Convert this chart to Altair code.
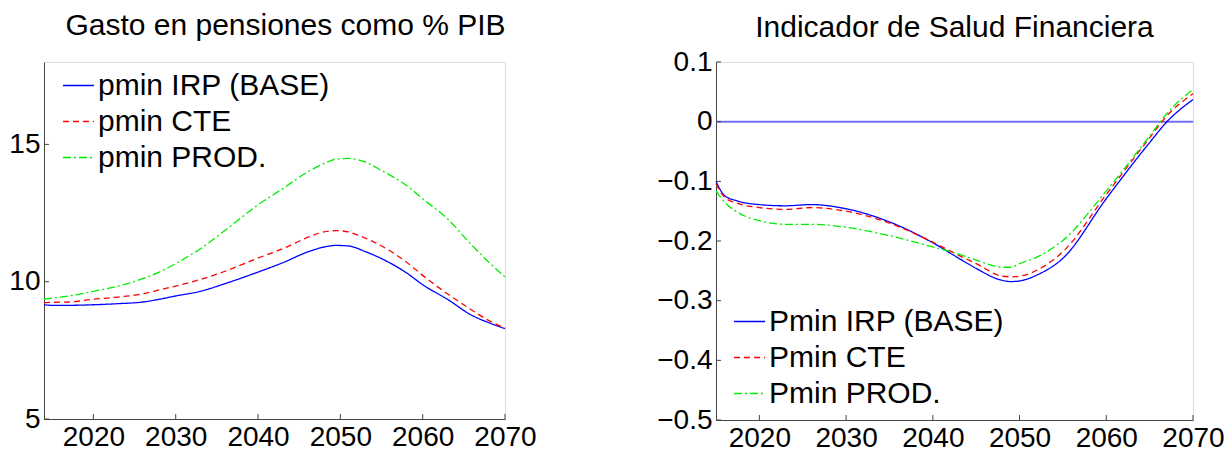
import altair as alt
import pandas as pd

FONT = "Liberation Sans"

# ---------------- Left panel: Gasto en pensiones como % PIB ----------------
left_years = [2014, 2015, 2017, 2020, 2023, 2026, 2028, 2030, 2033, 2036, 2040, 2043,
              2046, 2048, 2049.5, 2051, 2053, 2055, 2058, 2060, 2063, 2066, 2068, 2070]
left_base = [9.16, 9.14, 9.14, 9.16, 9.20, 9.26, 9.36, 9.48, 9.65, 9.93, 10.35, 10.69,
             11.08, 11.26, 11.32, 11.30, 11.10, 10.84, 10.33, 9.89, 9.36, 8.77, 8.51, 8.29]
left_cte = [9.24, 9.25, 9.26, 9.36, 9.44, 9.56, 9.70, 9.84, 10.08, 10.38, 10.86, 11.20,
            11.61, 11.81, 11.86, 11.81, 11.59, 11.30, 10.72, 10.23, 9.56, 8.96, 8.59, 8.31]
left_prod = [9.36, 9.40, 9.48, 9.65, 9.84, 10.11, 10.35, 10.66, 11.20, 11.87, 12.80, 13.39,
             13.99, 14.30, 14.46, 14.49, 14.36, 14.05, 13.51, 13.02, 12.29, 11.32, 10.72, 10.17]
left_labels = ["pmin IRP (BASE)", "pmin CTE", "pmin PROD."]
left_title = "Gasto en pensiones como % PIB"
left_yticks = [5, 10, 15]

# ---------------- Right panel: Indicador de Salud Financiera ----------------
right_years = [2015, 2016, 2017.5, 2020, 2023, 2026, 2030, 2035, 2040, 2043, 2045,
               2048, 2049, 2050, 2052, 2055, 2060, 2065, 2067, 2070]
right_base = [-0.100, -0.124, -0.133, -0.139, -0.141, -0.139, -0.146, -0.168, -0.203, -0.229,
              -0.246, -0.266, -0.268, -0.267, -0.257, -0.229, -0.129, -0.035, 0.000, 0.037]
right_cte = [-0.104, -0.127, -0.137, -0.144, -0.147, -0.144, -0.150, -0.170, -0.202, -0.224,
             -0.238, -0.259, -0.260, -0.259, -0.249, -0.218, -0.122, -0.027, 0.010, 0.047]
right_prod = [-0.116, -0.135, -0.152, -0.166, -0.172, -0.172, -0.177, -0.191, -0.210, -0.222,
              -0.232, -0.244, -0.244, -0.238, -0.227, -0.199, -0.116, -0.024, 0.014, 0.054]
right_labels = ["Pmin IRP (BASE)", "Pmin CTE", " Pmin PROD."]
right_title = "Indicador de Salud Financiera"
right_yticks = [-0.5, -0.4, -0.3, -0.2, -0.1, 0, 0.1]
zero_years = [2015, 2070]
zero_vals = [0, 0]

xticks = [2020, 2030, 2040, 2050, 2060, 2070]
colors = ["#0000ff", "#ff0000", "#00ee00"]
dashes = [[1, 0], [6, 4], [8, 3, 2, 3]]
AXIS_COLOR = "#444444"


def long_df(years, series, labels):
    rows = []
    for lab, vals in zip(labels, series):
        for yr, v in zip(years, vals):
            rows.append({"year": yr, "value": v, "serie": lab})
    return pd.DataFrame(rows)


def panel(df, labels, title, xdom, ydom, yticks, w, h, lx, ly, yfmt, tdx, toff, extra=None):
    xs = alt.Scale(domain=xdom, nice=False, zero=False)
    ys = alt.Scale(domain=ydom, nice=False, zero=False)
    x_main = alt.X("year:Q", scale=xs, axis=alt.Axis(
        orient="bottom", values=xticks, format="d", title=None, grid=False, ticks=False,
        domain=True, domainColor=AXIS_COLOR, domainWidth=1,
        labelFont=FONT, labelFontSize=28, labelColor="black", labelPadding=4,
        labelFlush=False))
    y_main = alt.Y("value:Q", scale=ys, axis=alt.Axis(
        orient="left", values=yticks, format=yfmt, title=None, grid=False, ticks=False,
        domain=True, domainColor=AXIS_COLOR, domainWidth=1,
        labelFont=FONT, labelFontSize=28, labelColor="black", labelPadding=4,
        labelFlush=False))
    lines = alt.Chart(df).mark_line(strokeWidth=1.3, interpolate="monotone").encode(
        x=x_main,
        y=y_main,
        color=alt.Color("serie:N", scale=alt.Scale(domain=labels, range=colors),
                        legend=alt.Legend(
                            title=None, orient="none", legendX=lx, legendY=ly,
                            symbolType="stroke", symbolSize=961, symbolStrokeWidth=1.3,
                            labelFont=FONT, labelFontSize=30, labelColor="black",
                            labelOffset=3, rowPadding=4, padding=0,
                            labelLimit=400)),
        strokeDash=alt.StrokeDash("serie:N", scale=alt.Scale(domain=labels, range=dashes),
                                  legend=None),
    )
    # inward tick marks (MATLAB style), placed through the scales
    xt_df = pd.DataFrame({"year": xticks, "value": [ydom[0]] * len(xticks)})
    yt_df = pd.DataFrame({"year": [xdom[0]] * len(yticks), "value": yticks})
    xtick_marks = alt.Chart(xt_df).mark_tick(
        orient="vertical", size=5, thickness=1, yOffset=-2.5, color=AXIS_COLOR, opacity=1
    ).encode(x=alt.X("year:Q", scale=xs), y=alt.Y("value:Q", scale=ys))
    ytick_marks = alt.Chart(yt_df).mark_tick(
        orient="horizontal", size=5, thickness=1, xOffset=2.5, color=AXIS_COLOR, opacity=1
    ).encode(x=alt.X("year:Q", scale=xs), y=alt.Y("value:Q", scale=ys))
    layers = [lines, xtick_marks, ytick_marks]
    if extra is not None:
        layers.insert(0, extra(xs, ys))
    return alt.layer(*layers).properties(
        width=w, height=h,
        title=alt.TitleParams(title, font=FONT, fontSize=30, fontWeight="normal",
                              color="black", anchor="middle", frame="group", offset=toff,
                              dx=tdx),
    )


def zero_layer(xs, ys):
    zdf = pd.DataFrame({"year": zero_years, "value": zero_vals})
    return alt.Chart(zdf).mark_line(color="#7070f0", strokeWidth=2).encode(
        x=alt.X("year:Q", scale=xs),
        y=alt.Y("value:Q", scale=ys),
    )


left_df = long_df(left_years, [left_base, left_cte, left_prod], left_labels)
right_df = long_df(right_years, [right_base, right_cte, right_prod], right_labels)

left = panel(left_df, left_labels, left_title, [2014, 2070], [5, 18], left_yticks,
             461, 357, 18, 7, "d", 11, 21)
right = panel(right_df, right_labels, right_title, [2015, 2070], [-0.5, 0.1], right_yticks,
              477, 358, 17, 243, ".1~f", 0, 5, extra=zero_layer)

chart = alt.hconcat(left, right, spacing=211, bounds="flush").resolve_scale(
    color="independent", strokeDash="independent"
).properties(
    padding={"left": 8, "top": 10, "right": 0, "bottom": 0}
).configure_view(stroke=None).configure(background="white")

chart.save("out.html", embed_options={"renderer": "svg", "actions": False})
